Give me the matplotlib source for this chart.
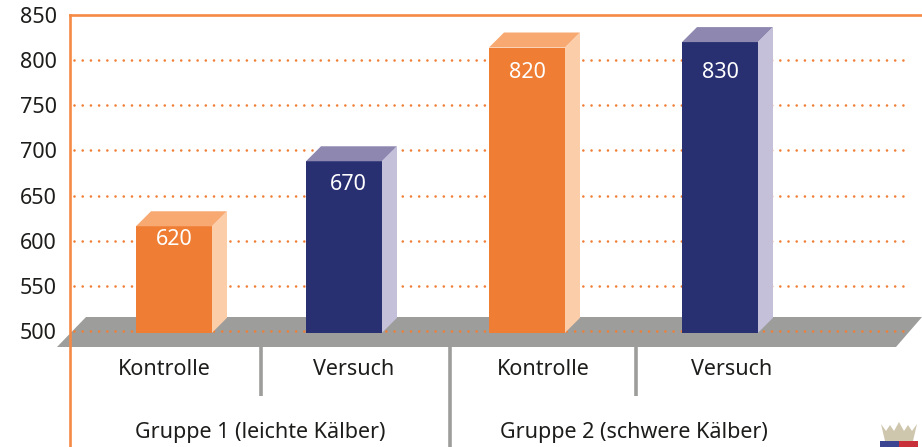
import matplotlib
matplotlib.use("Agg")
import matplotlib.pyplot as plt

plt.rcParams['font.family'] = ['Noto Sans', 'DejaVu Sans']

# values
bar_tops = [616, 688, 814, 820]   # as drawn, they differ from the printed numbers
bar_labels = ['620', '670', '820', '830']
label_y = [601, 662, 786, 786]
categories = ['Kontrolle', 'Versuch', 'Kontrolle', 'Versuch']
groups = ['Gruppe 1 (leichte Kälber)', 'Gruppe 2 (schwere Kälber)']
yticks = [500, 550, 600, 650, 700, 750, 800, 850]

# layout, x axis is in pixels
W, H = 922, 447
bar_x = [174, 344, 527, 720]
label_x = [174, 348, 527, 720]
cat_x = [164, 354, 543, 732]
group_x = [260, 634]
bar_w = 76
depth = 15
y_px = (331 - 15) / 350.0   # pixels per unit
ymin = 850 - (H - 15) / y_px
base = 498

orange = '#F58A45'
grey = '#9D9D9B'
front = ['#EF7D33', '#283072', '#EF7D33', '#283072']
top = ['#F7A971', '#8E88B0', '#F7A971', '#8E88B0']
side = ['#FCCDA9', '#C4C0DA', '#FCCDA9', '#C4C0DA']

fig = plt.figure(figsize=(W / 100, H / 100), dpi=100)
ax = fig.add_axes([70 / W, 0, (W - 70) / W, (H - 15) / H])
ax.set_xlim(70, W)
ax.set_ylim(ymin, 850)


def py(p):
    # pixel row to y value
    return 850 - (p - 15) / y_px


# floor
ax.fill([57, 86, 922, 896], [py(347), py(317), py(317), py(347)], color=grey, lw=0, zorder=1, clip_on=False)

# dotted grid
for t in yticks[:-1]:
    ax.plot([74, 910], [t, t], color='#F07F35', lw=1.9, linestyle=(0, (0.01, 3.1)),
            dash_capstyle='round', zorder=2)

# bars
ax.bar(bar_x, [t - base for t in bar_tops], bar_w, bottom=base, color=front, lw=0, zorder=3)
dy = depth / y_px
for x, t, c_top, c_side in zip(bar_x, bar_tops, top, side):
    l, r = x - bar_w / 2, x + bar_w / 2
    ax.fill([l, l + depth, r + depth, r], [t, t + dy, t + dy, t], color=c_top, lw=0, zorder=3)
    ax.fill([r, r + depth, r + depth, r], [base, base + dy, t + dy, t], color=c_side, lw=0, zorder=3)

for x, y, s in zip(label_x, label_y, bar_labels):
    ax.text(x, y, s, color='white', fontsize=15.5, ha='center', va='center', zorder=4)

# separators under the floor
for x, low in zip([261, 450, 636], [396, 447, 396]):
    ax.plot([x, x], [py(347), py(low)], color=grey, lw=2.6, solid_capstyle='butt', zorder=1)

for x, s in zip(cat_x, categories):
    ax.text(x, py(369.5), s, color='#1d1d1b', fontsize=15.5, ha='center', va='center')
for x, s in zip(group_x, groups):
    ax.text(x, py(433), s, color='#1d1d1b', fontsize=15.5, ha='center', va='center')

# axes
ax.set_xticks([])
ax.set_yticks(yticks)
ax.tick_params(axis='y', length=0, pad=9.5, labelsize=15.5, labelcolor='#1d1d1b')
for n in ['right', 'bottom']:
    ax.spines[n].set_visible(False)
for n in ['left', 'top']:
    ax.spines[n].set_color(orange)
    ax.spines[n].set_linewidth(1.9)

# small crown logo, bottom right
ax.fill([881, 886, 890, 894, 899, 904, 908, 912, 917, 913, 885],
        [py(424), py(431), py(425), py(431), py(422), py(431), py(425), py(431), py(424), py(441), py(441)],
        color='#CFC6AE', lw=0, zorder=2)
ax.fill([880, 899, 899, 880], [py(441), py(441), py(447), py(447)], color='#3A4490', lw=0, zorder=2)
ax.fill([899, 918, 918, 899], [py(441), py(441), py(447), py(447)], color='#C8303A', lw=0, zorder=2)

fig.savefig('out.png', dpi=100)
